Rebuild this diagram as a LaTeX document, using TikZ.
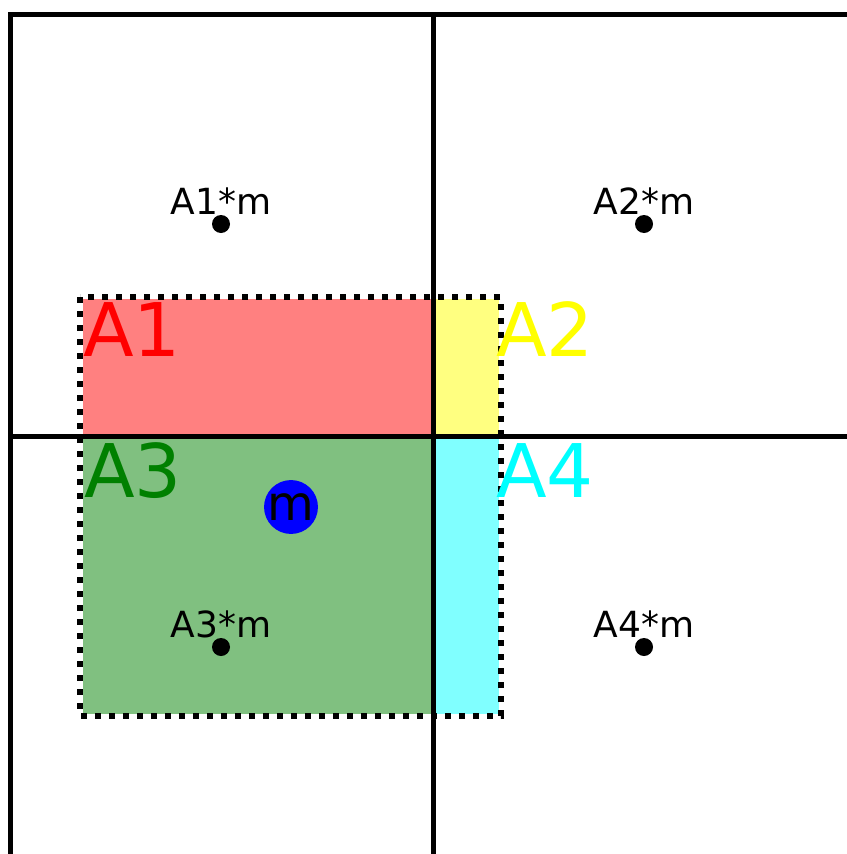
\documentclass[tikz,border=0pt]{standalone}
\usepackage{fontspec}
\setmainfont{DejaVu Sans}
\usetikzlibrary{positioning}
\definecolor{areared}{HTML}{FF8080}
\definecolor{areayellow}{HTML}{FFFF80}
\definecolor{areagreen}{HTML}{80C080}
\definecolor{areacyan}{HTML}{80FFFF}
\definecolor{tagred}{HTML}{FF0000}
\definecolor{tagyellow}{HTML}{FFFF00}
\definecolor{taggreen}{HTML}{008000}
\definecolor{tagcyan}{HTML}{00FFFF}
\definecolor{massblue}{HTML}{0000FF}
\tikzset{
  gridline/.style={line width=5pt, line cap=rect},
  window/.style={line width=6pt, dash pattern=on 6pt off 8pt},
  bigtag/.style={font=\fontsize{74}{74}\selectfont, inner sep=0pt, anchor=base west},
  pnt/.style={circle, fill=black, minimum size=18pt, inner sep=0pt},
  ptag/.style={font=\fontsize{36}{36}\selectfont, inner sep=0pt},
}

\begin{document}
\begin{tikzpicture}[x=1pt, y=-1pt]
  \useasboundingbox (0,0) rectangle (846,854);
  % overlap areas
  \fill[areared] (83,299) rectangle (433,436);
  \fill[areayellow] (433,299) rectangle (499,436);
  \fill[areagreen] (83,436) rectangle (433,714);
  \fill[areacyan] (433,436) rectangle (499,714);
  % cell grid
  \draw[gridline] (10,14) -- (846,14);
  \draw[gridline] (10,14) -- (10,854);
  \draw[gridline] (433,14) -- (433,854);
  \draw[gridline] (10,436) -- (846,436);
  % sample window
  \draw[window] (80,297) rectangle (501,716);
  \node[bigtag, text=tagred] (a1) at (83,356) {A1};
  \node[bigtag, text=tagyellow] (a2) at (496,356) {A2};
  \node[bigtag, text=taggreen] (a3) at (84,497) {A3};
  \node[bigtag, text=tagcyan] (a4) at (496,497) {A4};
  % cell centres
  \node[pnt] (c1) at (221,224) {};
  \node[pnt] (c2) at (644,224) {};
  \node[pnt] (c3) at (221,647) {};
  \node[pnt] (c4) at (644,647) {};
  \node[ptag, above=0pt of c1] (t1) {A1*m};
  \node[ptag, above=0pt of c2] (t2) {A2*m};
  \node[ptag, above=0pt of c3] (t3) {A3*m};
  \node[ptag, above=0pt of c4] (t4) {A4*m};
  \node[circle, fill=massblue, minimum size=52pt, inner sep=0pt, font=\fontsize{48}{48}\selectfont] (m) at (291,507) {m};
\end{tikzpicture}
\end{document}
